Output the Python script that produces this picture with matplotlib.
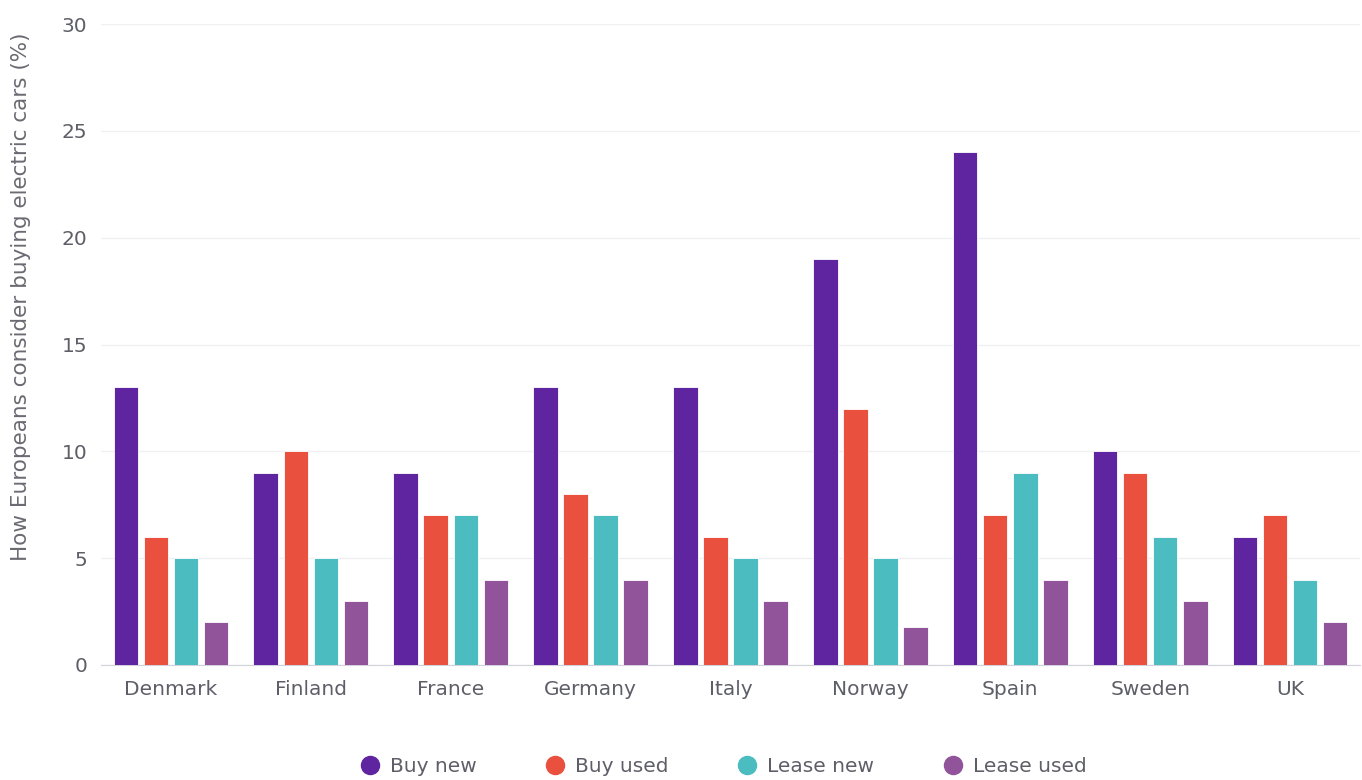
import numpy as np
import matplotlib
matplotlib.use('Agg')
import matplotlib.pyplot as plt
from matplotlib.lines import Line2D

plt.rcParams['font.family'] = ['DejaVu Sans']

countries = ['Denmark', 'Finland', 'France', 'Germany', 'Italy', 'Norway', 'Spain', 'Sweden', 'UK']
buy_new = [13, 9, 9, 13, 13, 19, 24, 10, 6]
buy_used = [6, 10, 7, 8, 6, 12, 7, 9, 7]
lease_new = [5, 5, 7, 7, 5, 5, 9, 6, 4]
lease_used = [2, 3, 4, 4, 3, 1.8, 4, 3, 2]

series = [('Buy new', buy_new, '#5f249f'),
          ('Buy used', buy_used, '#ea503e'),
          ('Lease new', lease_new, '#4bbcbf'),
          ('Lease used', lease_used, '#91549b')]

txt = '#5e5e68'

fig = plt.figure(figsize=(13.62, 7.8), dpi=100)
ax = fig.add_axes([101 / 1362, 1 - 665 / 780, 1259 / 1362, 641 / 780])

x = np.arange(len(countries))
pitch = 0.215
for i, (name, vals, col) in enumerate(series):
    ax.bar(x + (i - 1.5) * pitch, vals, width=0.175, color=col,
           edgecolor='white', linewidth=0.6, zorder=3)

ax.set_xlim(-0.5, len(countries) - 0.5)
ax.set_ylim(0, 30)
ax.set_yticks([0, 5, 10, 15, 20, 25, 30])
ax.set_xticks(x)
ax.set_xticklabels(countries)
ax.tick_params(axis='both', length=0, labelsize=14.5, colors=txt)
ax.tick_params(axis='x', pad=11)
ax.tick_params(axis='y', pad=10)
ax.grid(axis='y', color='#f0f0f2', linewidth=1, zorder=0)
for s in ['top', 'right', 'left']:
    ax.spines[s].set_visible(False)
ax.spines['bottom'].set_color('#d2d2dc')
ax.set_ylabel('How Europeans consider buying electric cars (%)', fontsize=15.5,
              color='#6a6a72')
ax.yaxis.set_label_coords(-0.0555, 0.574)

handles = [Line2D([], [], marker='o', linestyle='', markersize=13,
                  markerfacecolor=c, markeredgecolor=c) for _, _, c in series]
fig.legend(handles, [s[0] for s in series], loc='center', bbox_to_anchor=(0.531, 0.0167),
           ncol=4, frameon=False, fontsize=14.5, handlelength=1.0, handletextpad=0.5,
           columnspacing=3.4, labelcolor=txt, borderpad=0)

fig.savefig('out.png', dpi=100)
